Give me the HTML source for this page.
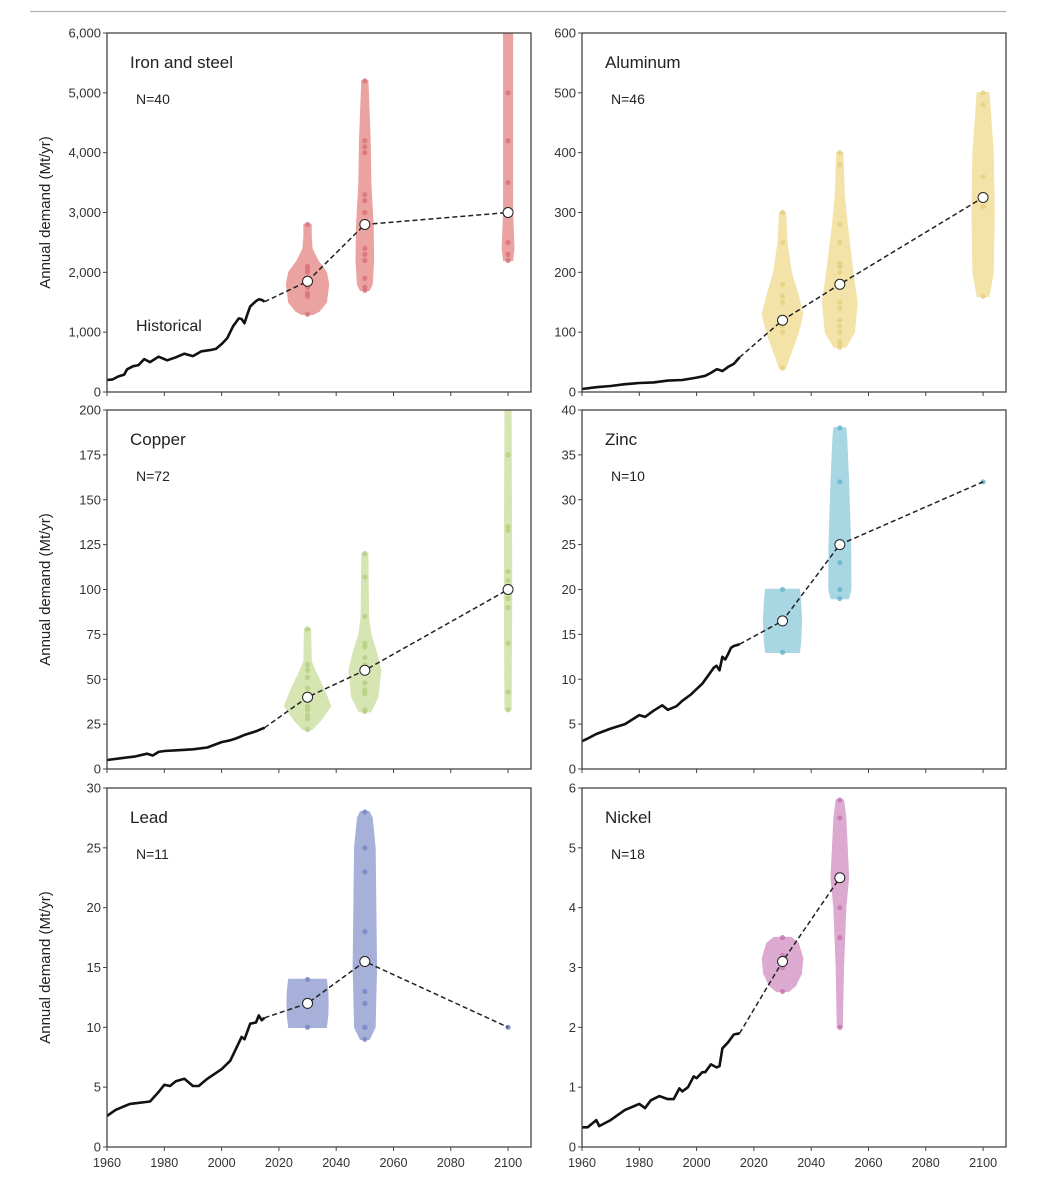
<!DOCTYPE html>
<html><head><meta charset="utf-8"><style>
html,body{margin:0;padding:0;background:#fff}
svg{display:block}
text{font-family:"Liberation Sans",sans-serif}
</style></head><body>
<svg id="chart" width="1046" height="1200" viewBox="0 0 1046 1200" xmlns="http://www.w3.org/2000/svg">
<line x1="30" y1="11.5" x2="1006" y2="11.5" stroke="#b0b0b0" stroke-width="1.2"/>
</svg>
<script>
// ---- data ----
const xTickYears = [1960,1980,2000,2020,2040,2060,2080,2100];
const panelNames = ["Iron and steel","Aluminum","Copper","Zinc","Lead","Nickel"];
const panelN = [40,46,72,10,11,18];
const yMax = [6000,600,200,40,30,6];
const yTickStep = [1000,100,25,5,5,1];
const scenarioYears = [2030,2050,2100];

const histIronYears = [1960,1962,1964,1966,1967,1969,1971,1973,1975,1978,1981,1984,1987,1990,1993,1996,1998,2000,2002,2004,2006,2007,2008,2009,2010,2012,2013,2014,2015];
const histIronVals  = [200,210,260,290,380,430,450,550,500,590,530,580,640,600,680,700,720,800,900,1100,1230,1220,1150,1300,1430,1520,1550,1540,1510];
const histAlYears = [1960,1965,1970,1975,1980,1985,1990,1995,2000,2003,2005,2007,2008,2009,2011,2013,2015];
const histAlVals  = [5,8,10,13,15,16,19,20,24,27,32,38,37,35,42,47,58];
const histCuYears = [1960,1965,1970,1974,1976,1978,1980,1985,1990,1995,2000,2003,2005,2008,2010,2012,2015];
const histCuVals  = [5,6,7,8.5,7.5,9.5,10,10.5,11,12,15,16,17,19,20,21,23];
const histZnYears = [1960,1962,1965,1970,1975,1980,1982,1985,1988,1990,1993,1995,1998,2000,2002,2004,2006,2007,2008,2009,2010,2011,2012,2013,2015];
const histZnVals  = [3.1,3.4,3.9,4.5,5.0,6.0,5.8,6.5,7.1,6.6,7.0,7.6,8.3,8.9,9.5,10.4,11.3,11.5,11.0,12.5,12.2,12.8,13.5,13.7,13.9];
const histPbYears = [1960,1963,1968,1975,1978,1980,1982,1984,1987,1990,1992,1995,2000,2003,2005,2007,2008,2010,2012,2013,2014,2015];
const histPbVals  = [2.6,3.1,3.6,3.8,4.6,5.2,5.1,5.5,5.7,5.1,5.1,5.7,6.5,7.2,8.2,9.2,9.0,10.3,10.4,11.0,10.6,10.8];
const histNiYears = [1960,1962,1965,1966,1970,1975,1980,1982,1984,1987,1990,1992,1994,1995,1997,1999,2000,2002,2003,2005,2007,2008,2009,2011,2013,2015];
const histNiVals  = [0.33,0.33,0.45,0.35,0.45,0.62,0.72,0.65,0.78,0.85,0.8,0.8,0.98,0.93,1.0,1.18,1.15,1.25,1.25,1.38,1.33,1.35,1.65,1.75,1.88,1.9];

const medIron = [1850,2800,3000];
const medAl   = [120,180,325];
const medCu   = [40,55,100];
const medZn   = [16.5,25,32];
const medPb   = [12,15.5,10];
const medNi   = [3.1,4.5,null];

const dotsIron = [[1300,1600,1650,1750,1900,2000,2050,2100,2800],[1700,1750,1900,2200,2300,2400,2800,3000,3200,3300,4000,4100,4200,5200],[2200,2300,2500,3000,3500,4200,5000]];
const dotsAl   = [[40,100,110,150,160,180,250,300],[75,80,85,100,110,120,140,150,200,210,215,250,280,380,400],[160,310,360,480,500]];
const dotsCu   = [[22,28,30,33,35,38,41,45,51,55,58,78],[32,33,42,44,48,55,58,62,68,70,85,107,120],[33,43,70,90,95,100,105,110,133,135,175]];
const dotsZn   = [[13,20],[19,20,23,32,38],[32]];
const dotsPb   = [[10,14],[9,10,12,13,18,23,25,28],[10]];
const dotsNi   = [[2.6,3.0,3.1,3.2,3.5],[2,3.5,4,5.5,5.8],[]];

const violIron = [[[1300,2],[1350,4],[1500,6.5],[1800,7.3],[2000,6.5],[2200,3.5],[2400,1.5],[2600,1.2],[2800,1.2]],[[1700,1.5],[1800,2.5],[2200,3],[2800,2.8],[3500,2],[4200,1.8],[5200,1]],[[2200,1.5],[2400,2],[3000,1.5],[6000,1.5]]];
const violAl   = [[[40,1],[60,2.5],[100,5.5],[130,7],[160,5.5],[200,3],[250,1.5],[300,1]],[[75,2],[100,5],[150,6],[200,4.5],[280,2.5],[330,1.5],[400,1]],[[160,2],[200,3.5],[300,3.8],[400,3.5],[500,2]]];
const violCu   = [[[22,1.5],[27,4.5],[35,8],[45,5.5],[55,2.5],[60,1.2],[78,1]],[[32,2],[40,4.5],[55,5.5],[65,4],[75,2],[85,1.2],[120,1]],[[33,1],[100,1.2],[200,1]]];
const violZn   = [[[13,5.8],[14,6.2],[16.5,6.6],[19,6.2],[20,5.8]],[[19,3],[20,3.8],[25,3.7],[32,3],[37,2.3],[38,2]],[]];
const violPb   = [[[10,6.5],[11,7],[12,7.1],[13,7],[14,6.5]],[[9,1.5],[10,3.5],[15,4],[25,3.5],[27.5,2.5],[28,1.5]],[]];
const violNi   = [[[2.6,2],[2.7,4.5],[2.9,6.5],[3.15,7],[3.4,5.5],[3.5,3]],[[2,0.8],[3,1.2],[4,2],[4.5,3],[5,2.5],[5.5,2],[5.8,1.2]],[]];

const histYears = [histIronYears,histAlYears,histCuYears,histZnYears,histPbYears,histNiYears];
const histVals = [histIronVals,histAlVals,histCuVals,histZnVals,histPbVals,histNiVals];
const meds = [medIron,medAl,medCu,medZn,medPb,medNi];
const dots = [dotsIron,dotsAl,dotsCu,dotsZn,dotsPb,dotsNi];
const viols = [violIron,violAl,violCu,violZn,violPb,violNi];
const fills = ["#eaa3a1","#f4e3a8","#d6e5b2","#a9d6e3","#a6b0d9","#dcaad0"];
const dotCols = ["#d8737b","#e6d083","#b6d083","#6db5cd","#7a86c6","#c577b2"];

// ---- layout ----
const NS="http://www.w3.org/2000/svg";
const svg=document.getElementById('chart');
const colX=[[107,531],[582,1006]];
const rowY=[[33,392],[410,769],[788,1147]];
function mk(tag,attrs,parent){const e=document.createElementNS(NS,tag);for(const k in attrs)e.setAttribute(k,attrs[k]);(parent||svg).appendChild(e);return e;}
function fmt(v){return v>=1000?v.toLocaleString('en-US'):String(v);}

for(let p=0;p<6;p++){
  const c=p%2,r=Math.floor(p/2);
  const L=colX[c][0],R=colX[c][1],T=rowY[r][0],B=rowY[r][1];
  const xs=y=>L+(y-1960)*(R-L)/148;
  const ys=v=>B-v*(B-T)/yMax[p];
  const g=mk('g',{});
  
  
  const clipId='clip'+p;
  const cp=mk('clipPath',{id:clipId},g);mk('rect',{x:L,y:T,width:R-L,height:B-T},cp);
  const plot=mk('g',{'clip-path':'url(#'+clipId+')'},g);
  for(let s=0;s<3;s++){
    const prof=viols[p][s];
    if(prof.length){
      const cx=xs(scenarioYears[s]);
      const pts=[];
      prof.forEach(([v,w])=>pts.push((cx+w*(R-L)/148).toFixed(1)+','+ys(v).toFixed(1)));
      for(let i=prof.length-1;i>=0;i--){const [v,w]=prof[i];pts.push((cx-w*(R-L)/148).toFixed(1)+','+ys(v).toFixed(1));}
      const vp=mk('polygon',{points:pts.join(' '),fill:fills[p],'stroke':fills[p],'stroke-width':1.5,'stroke-linejoin':'round'},plot);
      
      
    }
    dots[p][s].forEach(v=>{
      const d=mk('circle',{cx:xs(scenarioYears[s]),cy:ys(v),r:2.6,fill:dotCols[p],opacity:0.85},plot);
      
      
    });
  }
  const hy=histYears[p],hv=histVals[p];
  const hl=mk('polyline',{points:hy.map((y,i)=>xs(y).toFixed(1)+','+ys(hv[i]).toFixed(1)).join(' '),fill:'none',stroke:'#111',"stroke-width":2.6,'stroke-linejoin':'round'},plot);
  
  
  const mp=[[hy[hy.length-1],hv[hv.length-1]]];
  meds[p].forEach((m,i)=>{if(m!==null)mp.push([scenarioYears[i],m]);});
  const dl=mk('polyline',{points:mp.map(q=>xs(q[0]).toFixed(1)+','+ys(q[1]).toFixed(1)).join(' '),fill:'none',stroke:'#222','stroke-width':1.5,'stroke-dasharray':'5,3'},plot);
  
  
  meds[p].forEach((m,i)=>{
    if(m===null)return;
    if(viols[p][i].length===0)return;
    const mc=mk('circle',{cx:xs(scenarioYears[i]),cy:ys(m),r:5,fill:'#fff',stroke:'#222','stroke-width':1},plot);
    
    
  });
  const fr=mk('rect',{x:L,y:T,width:R-L,height:B-T,fill:'none',stroke:'#444','stroke-width':1.3},g);
  
  
  for(let v=0;v<=yMax[p]+1e-9;v+=yTickStep[p]){
    const y=ys(v);
    mk('line',{x1:L-4,y1:y,x2:L,y2:y,stroke:'#444','stroke-width':1},g);
    const t=mk('text',{x:L-6,y:y+4.5,'text-anchor':'end','font-size':13,fill:'#333'},g);
    t.textContent=fmt(v);
    
    
  }
  xTickYears.forEach(yr=>{
    const x=xs(yr);
    mk('line',{x1:x,y1:B,x2:x,y2:B+4,stroke:'#444','stroke-width':1},g);
    if(r===2){
      const t=mk('text',{x:x,y:B+20,'text-anchor':'middle','font-size':13,fill:'#333',textLength:28,lengthAdjust:'spacingAndGlyphs'},g);
      t.textContent=yr;
      
      
    }
  });
  const tt=mk('text',{x:L+23,y:T+35,'font-size':17,fill:'#222'},g);
  tt.textContent=panelNames[p];
  
  
  const nt=mk('text',{x:L+29,y:T+71,'font-size':14,fill:'#222'},g);
  nt.textContent='N='+panelN[p];
  
  
  if(p===0){
    const ht=mk('text',{x:L+29,y:T+298,'font-size':16,fill:'#222'},g);
    ht.textContent='Historical';
    
    
  }
  if(c===0){
    const cy=(T+B)/2;
    const yt=mk('text',{x:0,y:0,'font-size':15,fill:'#222','text-anchor':'middle',transform:'translate(50,'+cy+') rotate(-90)'},g);
    yt.textContent='Annual demand (Mt/yr)';
    
    
  }
}
</script>
</body></html>
